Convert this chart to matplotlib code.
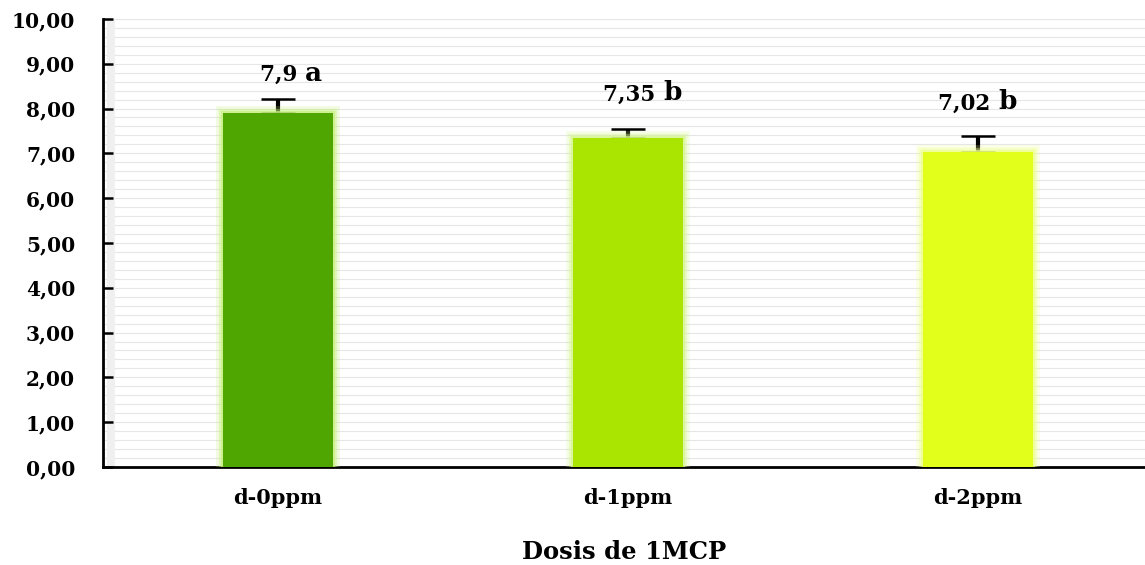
import numpy as np
import matplotlib
matplotlib.use("Agg")
import matplotlib.pyplot as plt
import matplotlib.patheffects as pe
from matplotlib.ticker import FuncFormatter, MultipleLocator

# data
doses   = ["d-0ppm", "d-1ppm", "d-2ppm"]
means   = [7.9, 7.35, 7.02]
errors  = [0.31, 0.19, 0.37]
letters = ["a", "b", "b"]
mean_labels = ["7,9", "7,35", "7,02"]

colors = ["#4fa600", "#a9e500", "#e2ff1c"]
glows  = ["#c6f07e", "#d6f78e", "#eeff8c"]
label_y  = [8.62, 8.18, 7.98]
label_dx = [0.077, 0.10, 0.057]

plt.rcParams['font.family'] = ['DejaVu Serif', 'Liberation Serif']
plt.rcParams['font.weight'] = 'bold'

fig = plt.figure(figsize=(11.45, 5.65), dpi=100)
ax = fig.add_axes([0.09, 0.1735, 0.91, 0.793])

x = np.arange(len(doses))
ax.set_xlim(-0.5, 2.477)
ax.set_ylim(0, 10)

# faint minor gridlines
for yy in np.arange(0.2, 10.01, 0.2):
    ax.axhline(yy, color="#e6e6e6", lw=0.8, zorder=0)
ax.axvspan(-0.49, -0.465, color="#f0f0f0", zorder=0, lw=0)

# error bars sit behind the bars so only the upper half shows
ax.errorbar(x, means, yerr=[np.zeros(3), errors], fmt="none", ecolor="black",
            elinewidth=3, capsize=12.5, capthick=1.8, zorder=2)

bars = ax.bar(x, means, width=0.314, color=colors, zorder=3)
for b, g in zip(bars, glows):
    b.set_path_effects([
        pe.Stroke(linewidth=10, foreground=g, alpha=0.22),
        pe.Stroke(linewidth=6, foreground=g, alpha=0.4),
        pe.Stroke(linewidth=3, foreground=g, alpha=0.7),
        pe.Normal(),
    ])

for i in range(len(doses)):
    ax.text(x[i] + label_dx[i], label_y[i], mean_labels[i] + " ", ha="right",
            va="baseline", fontsize=15.5, fontweight="bold")
    ax.text(x[i] + label_dx[i], label_y[i], letters[i], ha="left",
            va="baseline", fontsize=19, fontweight="bold")

ax.yaxis.set_major_locator(MultipleLocator(1))
ax.yaxis.set_major_formatter(FuncFormatter(lambda v, p: f"{v:.2f}".replace(".", ",")))
ax.set_xticks(x)
ax.set_xticklabels(doses)
ax.tick_params(axis="y", direction="in", length=7, width=1.8, pad=20, labelsize=14.5)
ax.tick_params(axis="x", length=0, pad=15, labelsize=15)
for lbl in ax.get_yticklabels() + ax.get_xticklabels():
    lbl.set_fontweight("bold")

ax.set_xlabel("Dosis de 1MCP", fontsize=17.5, fontweight="bold", labelpad=23)

for s in ["top", "right"]:
    ax.spines[s].set_visible(False)
ax.spines["left"].set_linewidth(2)
ax.spines["bottom"].set_linewidth(2)

fig.savefig("out.png", dpi=100)
